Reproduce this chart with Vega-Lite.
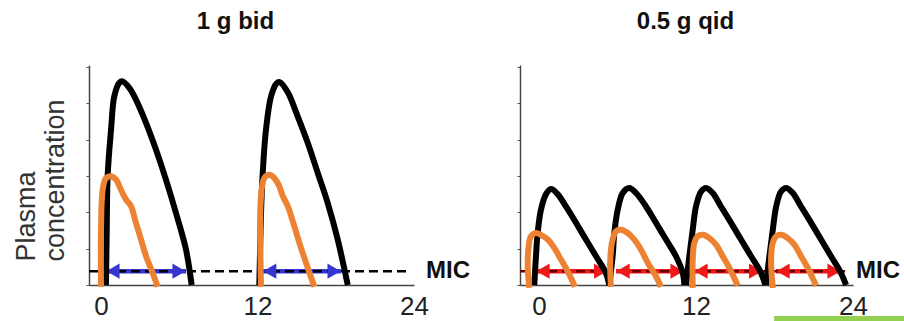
{
  "$schema": "https://vega.github.io/schema/vega-lite/v6.json",
  "padding": {"left": 12, "top": 10, "right": 0, "bottom": 0},
  "background": "white",
  "spacing": 106,
  "bounds": "flush",
  "config": {
    "view": {"stroke": null},
    "font": "Liberation Sans",
    "axis": {"domainColor": "#444", "domainWidth": 1.5, "grid": false, "labelFont": "Liberation Sans", "labelColor": "#222", "titleFont": "Liberation Sans"},
    "title": {"font": "Liberation Sans", "fontSize": 24, "fontWeight": "bold", "color": "#111", "baseline": "alphabetic"}
  },
  "datasets": {
    "curves": [
      {"p":"bid","s":"total","k":"b1","i":0,"t":0.38,"v":0},
      {"p":"bid","s":"total","k":"b1","i":1,"t":0.44,"v":1.52},
      {"p":"bid","s":"total","k":"b1","i":2,"t":0.51,"v":3.0},
      {"p":"bid","s":"total","k":"b1","i":3,"t":0.77,"v":4.27},
      {"p":"bid","s":"total","k":"b1","i":4,"t":1.02,"v":5.19},
      {"p":"bid","s":"total","k":"b1","i":5,"t":1.4,"v":5.56},
      {"p":"bid","s":"total","k":"b1","i":6,"t":1.66,"v":5.6},
      {"p":"bid","s":"total","k":"b1","i":7,"t":2.17,"v":5.42},
      {"p":"bid","s":"total","k":"b1","i":8,"t":2.68,"v":5.1},
      {"p":"bid","s":"total","k":"b1","i":9,"t":3.45,"v":4.46},
      {"p":"bid","s":"total","k":"b1","i":10,"t":4.22,"v":3.72},
      {"p":"bid","s":"total","k":"b1","i":11,"t":4.98,"v":2.9},
      {"p":"bid","s":"total","k":"b1","i":12,"t":5.75,"v":1.98},
      {"p":"bid","s":"total","k":"b1","i":13,"t":6.52,"v":0.97},
      {"p":"bid","s":"total","k":"b1","i":14,"t":6.95,"v":0},
      {"p":"bid","s":"total","k":"b2","i":0,"t":12.14,"v":0},
      {"p":"bid","s":"total","k":"b2","i":1,"t":12.27,"v":1.98},
      {"p":"bid","s":"total","k":"b2","i":2,"t":12.4,"v":3.08},
      {"p":"bid","s":"total","k":"b2","i":3,"t":12.65,"v":4.27},
      {"p":"bid","s":"total","k":"b2","i":4,"t":13.04,"v":5.19},
      {"p":"bid","s":"total","k":"b2","i":5,"t":13.45,"v":5.54},
      {"p":"bid","s":"total","k":"b2","i":6,"t":13.7,"v":5.58},
      {"p":"bid","s":"total","k":"b2","i":7,"t":14.32,"v":5.3},
      {"p":"bid","s":"total","k":"b2","i":8,"t":15.08,"v":4.64},
      {"p":"bid","s":"total","k":"b2","i":9,"t":15.85,"v":3.91},
      {"p":"bid","s":"total","k":"b2","i":10,"t":16.62,"v":3.08},
      {"p":"bid","s":"total","k":"b2","i":11,"t":17.38,"v":2.26},
      {"p":"bid","s":"total","k":"b2","i":12,"t":18.15,"v":1.25},
      {"p":"bid","s":"total","k":"b2","i":13,"t":18.92,"v":0},
      {"p":"bid","s":"free","k":"o1","i":0,"t":0.0,"v":-0.05},
      {"p":"bid","s":"free","k":"o1","i":1,"t":0.0,"v":1.52},
      {"p":"bid","s":"free","k":"o1","i":2,"t":0.13,"v":2.62},
      {"p":"bid","s":"free","k":"o1","i":3,"t":0.38,"v":2.94},
      {"p":"bid","s":"free","k":"o1","i":4,"t":0.77,"v":2.99},
      {"p":"bid","s":"free","k":"o1","i":5,"t":1.15,"v":2.9},
      {"p":"bid","s":"free","k":"o1","i":6,"t":1.53,"v":2.62},
      {"p":"bid","s":"free","k":"o1","i":7,"t":1.92,"v":2.35},
      {"p":"bid","s":"free","k":"o1","i":8,"t":2.3,"v":2.17},
      {"p":"bid","s":"free","k":"o1","i":9,"t":2.68,"v":1.71},
      {"p":"bid","s":"free","k":"o1","i":10,"t":3.07,"v":1.25},
      {"p":"bid","s":"free","k":"o1","i":11,"t":3.45,"v":0.8},
      {"p":"bid","s":"free","k":"o1","i":12,"t":3.96,"v":0.33},
      {"p":"bid","s":"free","k":"o1","i":13,"t":4.35,"v":-0.05},
      {"p":"bid","s":"free","k":"o2","i":0,"t":12.27,"v":-0.05},
      {"p":"bid","s":"free","k":"o2","i":1,"t":12.27,"v":2.45},
      {"p":"bid","s":"free","k":"o2","i":2,"t":12.52,"v":2.94},
      {"p":"bid","s":"free","k":"o2","i":3,"t":12.91,"v":3.03},
      {"p":"bid","s":"free","k":"o2","i":4,"t":13.29,"v":2.94},
      {"p":"bid","s":"free","k":"o2","i":5,"t":13.67,"v":2.72},
      {"p":"bid","s":"free","k":"o2","i":6,"t":13.93,"v":2.45},
      {"p":"bid","s":"free","k":"o2","i":7,"t":14.32,"v":2.17},
      {"p":"bid","s":"free","k":"o2","i":8,"t":14.82,"v":1.62},
      {"p":"bid","s":"free","k":"o2","i":9,"t":15.21,"v":1.16},
      {"p":"bid","s":"free","k":"o2","i":10,"t":15.72,"v":0.61},
      {"p":"bid","s":"free","k":"o2","i":11,"t":16.36,"v":-0.05},
      {"p":"qid","s":"total","k":"q1","i":0,"t":-0.36,"v":0},
      {"p":"qid","s":"total","k":"q1","i":1,"t":-0.23,"v":0.79},
      {"p":"qid","s":"total","k":"q1","i":2,"t":-0.1,"v":1.43},
      {"p":"qid","s":"total","k":"q1","i":3,"t":0.15,"v":2.07},
      {"p":"qid","s":"total","k":"q1","i":4,"t":0.54,"v":2.5},
      {"p":"qid","s":"total","k":"q1","i":5,"t":0.92,"v":2.64},
      {"p":"qid","s":"total","k":"q1","i":6,"t":1.43,"v":2.5},
      {"p":"qid","s":"total","k":"q1","i":7,"t":2.06,"v":2.16},
      {"p":"qid","s":"total","k":"q1","i":8,"t":2.83,"v":1.71},
      {"p":"qid","s":"total","k":"q1","i":9,"t":3.59,"v":1.25},
      {"p":"qid","s":"total","k":"q1","i":10,"t":4.36,"v":0.79},
      {"p":"qid","s":"total","k":"q1","i":11,"t":5.12,"v":0.33},
      {"p":"qid","s":"total","k":"q1","i":12,"t":5.37,"v":0},
      {"p":"qid","s":"total","k":"q2","i":0,"t":5.37,"v":0},
      {"p":"qid","s":"total","k":"q2","i":1,"t":5.63,"v":0.79},
      {"p":"qid","s":"total","k":"q2","i":2,"t":5.76,"v":1.43},
      {"p":"qid","s":"total","k":"q2","i":3,"t":6.02,"v":2.07},
      {"p":"qid","s":"total","k":"q2","i":4,"t":6.4,"v":2.53},
      {"p":"qid","s":"total","k":"q2","i":5,"t":6.9,"v":2.67},
      {"p":"qid","s":"total","k":"q2","i":6,"t":7.42,"v":2.53},
      {"p":"qid","s":"total","k":"q2","i":7,"t":8.18,"v":2.16},
      {"p":"qid","s":"total","k":"q2","i":8,"t":8.94,"v":1.71},
      {"p":"qid","s":"total","k":"q2","i":9,"t":9.71,"v":1.25},
      {"p":"qid","s":"total","k":"q2","i":10,"t":10.47,"v":0.79},
      {"p":"qid","s":"total","k":"q2","i":11,"t":10.99,"v":0.33},
      {"p":"qid","s":"total","k":"q2","i":12,"t":11.11,"v":0},
      {"p":"qid","s":"total","k":"q3","i":0,"t":11.24,"v":0},
      {"p":"qid","s":"total","k":"q3","i":1,"t":11.49,"v":0.79},
      {"p":"qid","s":"total","k":"q3","i":2,"t":11.75,"v":1.52},
      {"p":"qid","s":"total","k":"q3","i":3,"t":12.0,"v":2.16},
      {"p":"qid","s":"total","k":"q3","i":4,"t":12.39,"v":2.57},
      {"p":"qid","s":"total","k":"q3","i":5,"t":12.77,"v":2.67},
      {"p":"qid","s":"total","k":"q3","i":6,"t":13.28,"v":2.53},
      {"p":"qid","s":"total","k":"q3","i":7,"t":13.91,"v":2.16},
      {"p":"qid","s":"total","k":"q3","i":8,"t":14.68,"v":1.71},
      {"p":"qid","s":"total","k":"q3","i":9,"t":15.44,"v":1.25},
      {"p":"qid","s":"total","k":"q3","i":10,"t":16.21,"v":0.79},
      {"p":"qid","s":"total","k":"q3","i":11,"t":16.97,"v":0.33},
      {"p":"qid","s":"total","k":"q3","i":12,"t":17.3,"v":0},
      {"p":"qid","s":"total","k":"q4","i":0,"t":17.35,"v":0},
      {"p":"qid","s":"total","k":"q4","i":1,"t":17.61,"v":0.79},
      {"p":"qid","s":"total","k":"q4","i":2,"t":17.87,"v":1.52},
      {"p":"qid","s":"total","k":"q4","i":3,"t":18.13,"v":2.16},
      {"p":"qid","s":"total","k":"q4","i":4,"t":18.5,"v":2.57},
      {"p":"qid","s":"total","k":"q4","i":5,"t":18.9,"v":2.67},
      {"p":"qid","s":"total","k":"q4","i":6,"t":19.4,"v":2.53},
      {"p":"qid","s":"total","k":"q4","i":7,"t":20.03,"v":2.16},
      {"p":"qid","s":"total","k":"q4","i":8,"t":20.8,"v":1.71},
      {"p":"qid","s":"total","k":"q4","i":9,"t":21.56,"v":1.25},
      {"p":"qid","s":"total","k":"q4","i":10,"t":22.32,"v":0.79},
      {"p":"qid","s":"total","k":"q4","i":11,"t":23.08,"v":0.33},
      {"p":"qid","s":"total","k":"q4","i":12,"t":23.47,"v":0},
      {"p":"qid","s":"free","k":"r1","i":0,"t":-0.74,"v":-0.08},
      {"p":"qid","s":"free","k":"r1","i":1,"t":-0.86,"v":0.51},
      {"p":"qid","s":"free","k":"r1","i":2,"t":-0.79,"v":1.06},
      {"p":"qid","s":"free","k":"r1","i":3,"t":-0.61,"v":1.34},
      {"p":"qid","s":"free","k":"r1","i":4,"t":-0.23,"v":1.43},
      {"p":"qid","s":"free","k":"r1","i":5,"t":0.15,"v":1.38},
      {"p":"qid","s":"free","k":"r1","i":6,"t":0.67,"v":1.25},
      {"p":"qid","s":"free","k":"r1","i":7,"t":1.17,"v":1.02},
      {"p":"qid","s":"free","k":"r1","i":8,"t":1.68,"v":0.7},
      {"p":"qid","s":"free","k":"r1","i":9,"t":2.19,"v":0.38},
      {"p":"qid","s":"free","k":"r1","i":10,"t":2.75,"v":-0.05},
      {"p":"qid","s":"free","k":"r2","i":0,"t":5.5,"v":-0.05},
      {"p":"qid","s":"free","k":"r2","i":1,"t":5.45,"v":0.7},
      {"p":"qid","s":"free","k":"r2","i":2,"t":5.63,"v":1.25},
      {"p":"qid","s":"free","k":"r2","i":3,"t":5.89,"v":1.48},
      {"p":"qid","s":"free","k":"r2","i":4,"t":6.27,"v":1.52},
      {"p":"qid","s":"free","k":"r2","i":5,"t":6.78,"v":1.43},
      {"p":"qid","s":"free","k":"r2","i":6,"t":7.29,"v":1.25},
      {"p":"qid","s":"free","k":"r2","i":7,"t":7.8,"v":0.97},
      {"p":"qid","s":"free","k":"r2","i":8,"t":8.31,"v":0.61},
      {"p":"qid","s":"free","k":"r2","i":9,"t":8.94,"v":0.24},
      {"p":"qid","s":"free","k":"r2","i":10,"t":9.33,"v":-0.05},
      {"p":"qid","s":"free","k":"r3","i":0,"t":11.75,"v":-0.08},
      {"p":"qid","s":"free","k":"r3","i":1,"t":11.75,"v":0.7},
      {"p":"qid","s":"free","k":"r3","i":2,"t":11.87,"v":1.16},
      {"p":"qid","s":"free","k":"r3","i":3,"t":12.13,"v":1.34},
      {"p":"qid","s":"free","k":"r3","i":4,"t":12.52,"v":1.38},
      {"p":"qid","s":"free","k":"r3","i":5,"t":13.02,"v":1.29},
      {"p":"qid","s":"free","k":"r3","i":6,"t":13.53,"v":1.11},
      {"p":"qid","s":"free","k":"r3","i":7,"t":14.04,"v":0.79},
      {"p":"qid","s":"free","k":"r3","i":8,"t":14.55,"v":0.47},
      {"p":"qid","s":"free","k":"r3","i":9,"t":15.19,"v":-0.02},
      {"p":"qid","s":"free","k":"r4","i":0,"t":17.87,"v":-0.08},
      {"p":"qid","s":"free","k":"r4","i":1,"t":17.74,"v":0.7},
      {"p":"qid","s":"free","k":"r4","i":2,"t":17.87,"v":1.16},
      {"p":"qid","s":"free","k":"r4","i":3,"t":18.13,"v":1.34},
      {"p":"qid","s":"free","k":"r4","i":4,"t":18.5,"v":1.38},
      {"p":"qid","s":"free","k":"r4","i":5,"t":19.01,"v":1.29},
      {"p":"qid","s":"free","k":"r4","i":6,"t":19.52,"v":1.11},
      {"p":"qid","s":"free","k":"r4","i":7,"t":20.03,"v":0.79},
      {"p":"qid","s":"free","k":"r4","i":8,"t":20.54,"v":0.47},
      {"p":"qid","s":"free","k":"r4","i":9,"t":21.18,"v":-0.02}
    ],
    "mic": [
      {"p":"bid","t":-0.92,"t2":23.6,"v":0.38},
      {"p":"qid","t":-1.45,"t2":23.4,"v":0.38}
    ],
    "miclabel": [
      {"p":"bid","t":24,"v":0.38,"label":"MIC"},
      {"p":"qid","t":24,"v":0.38,"label":"MIC"}
    ],
    "shafts": [
      {"p":"bid","t":0.38,"t2":6.52,"v":0.38},
      {"p":"bid","t":12.4,"t2":18.4,"v":0.38},
      {"p":"qid","t":-0.23,"t2":5.25,"v":0.38},
      {"p":"qid","t":5.89,"t2":11.09,"v":0.38},
      {"p":"qid","t":11.85,"t2":17.1,"v":0.38},
      {"p":"qid","t":18.12,"t2":23.09,"v":0.38}
    ],
    "heads": [
      {"p":"bid","d":"L","t":0.92,"v":0.38},
      {"p":"bid","d":"R","t":5.98,"v":0.38},
      {"p":"bid","d":"L","t":12.94,"v":0.38},
      {"p":"bid","d":"R","t":17.87,"v":0.38},
      {"p":"qid","d":"L","t":0.31,"v":0.38},
      {"p":"qid","d":"R","t":4.71,"v":0.38},
      {"p":"qid","d":"L","t":6.43,"v":0.38},
      {"p":"qid","d":"R","t":10.55,"v":0.38},
      {"p":"qid","d":"L","t":12.39,"v":0.38},
      {"p":"qid","d":"R","t":16.56,"v":0.38},
      {"p":"qid","d":"L","t":18.66,"v":0.38},
      {"p":"qid","d":"R","t":22.55,"v":0.38}
    ],
    "bar": [
      {"t":17.97,"t2":27.98,"v":-0.85,"v2":-1.3}
    ]
  },
  "hconcat": [
    {
      "width": 325,
      "height": 220,
      "title": {"text": "1 g bid", "dx": -16, "offset": 31},
      "encoding": {
        "x": {"field": "t", "type": "quantitative", "scale": {"domain": [-0.92, 24], "nice": false, "zero": false},
              "axis": {"values": [0, 12, 24], "ticks": false, "labelFontSize": 26, "labelPadding": 8, "labelFlush": false, "labelBound": false, "labelOverlap": false, "title": null}},
        "y": {"field": "v", "type": "quantitative", "scale": {"domain": [0, 6.05], "nice": false, "zero": false},
              "axis": {"values": [0, 1, 2, 3, 4, 5, 6], "labels": false, "tickSize": 3, "tickColor": "#555", "tickWidth": 1,
                       "title": ["Plasma", "concentration"], "titleFontSize": 27, "titleFontWeight": "normal", "titleColor": "#333",
                       "titleAngle": -90, "titleAlign": "left", "titleBaseline": "alphabetic", "titleX": -55, "titleY": 196, "titleLineHeight": 29}}
      },
      "layer": [
        {"data": {"name": "shafts"}, "transform": [{"filter": "datum.p == 'bid'"}],
         "mark": {"type": "rule", "color": "#3535d0", "strokeWidth": 4.5}, "encoding": {"x2": {"field": "t2"}}},
        {"data": {"name": "mic"}, "transform": [{"filter": "datum.p == 'bid'"}],
         "mark": {"type": "rule", "color": "#000", "strokeWidth": 2.5, "strokeDash": [9, 5]}, "encoding": {"x2": {"field": "t2"}}},
        {"data": {"name": "heads"}, "transform": [{"filter": "datum.p == 'bid'"}],
         "mark": {"type": "point", "filled": true, "size": 230, "color": "#3535d0", "opacity": 1},
         "encoding": {"shape": {"field": "d", "type": "nominal", "scale": {"domain": ["L", "R"], "range": ["triangle-left", "triangle-right"]}, "legend": null}}},
        {"data": {"name": "curves"}, "transform": [{"filter": "datum.p == 'bid' && datum.s == 'total'"}],
         "mark": {"type": "line", "color": "#000", "strokeWidth": 6, "interpolate": "catmull-rom", "strokeJoin": "round"},
         "encoding": {"detail": {"field": "k"}, "order": {"field": "i", "type": "quantitative"}}},
        {"data": {"name": "curves"}, "transform": [{"filter": "datum.p == 'bid' && datum.s == 'free'"}],
         "mark": {"type": "line", "color": "#ed8233", "strokeWidth": 6, "interpolate": "catmull-rom", "strokeJoin": "round"},
         "encoding": {"detail": {"field": "k"}, "order": {"field": "i", "type": "quantitative"}}},
        {"data": {"name": "miclabel"}, "transform": [{"filter": "datum.p == 'bid'"}],
         "mark": {"type": "text", "align": "left", "baseline": "middle", "dx": 12, "fontSize": 24, "fontWeight": "bold", "color": "#111"},
         "encoding": {"text": {"field": "label"}}}
      ]
    },
    {
      "width": 333,
      "height": 220,
      "title": {"text": "0.5 g qid", "dx": -1, "offset": 31},
      "encoding": {
        "x": {"field": "t", "type": "quantitative", "scale": {"domain": [-1.45, 24], "nice": false, "zero": false},
              "axis": {"values": [0, 12, 24], "ticks": false, "labelFontSize": 26, "labelPadding": 8, "labelFlush": false, "labelBound": false, "labelOverlap": false, "title": null}},
        "y": {"field": "v", "type": "quantitative", "scale": {"domain": [0, 6.05], "nice": false, "zero": false},
              "axis": {"values": [0, 1, 2, 3, 4, 5, 6], "labels": false, "tickSize": 3, "tickColor": "#555", "tickWidth": 1, "title": null}}
      },
      "layer": [
        {"data": {"name": "bar"},
         "mark": {"type": "rect", "color": "#92d050"}, "encoding": {"x2": {"field": "t2"}, "y2": {"field": "v2"}}},
        {"data": {"name": "shafts"}, "transform": [{"filter": "datum.p == 'qid'"}],
         "mark": {"type": "rule", "color": "#f01818", "strokeWidth": 4.5}, "encoding": {"x2": {"field": "t2"}}},
        {"data": {"name": "mic"}, "transform": [{"filter": "datum.p == 'qid'"}],
         "mark": {"type": "rule", "color": "#6a0000", "strokeWidth": 2.5, "strokeDash": [9, 5]}, "encoding": {"x2": {"field": "t2"}}},
        {"data": {"name": "heads"}, "transform": [{"filter": "datum.p == 'qid'"}],
         "mark": {"type": "point", "filled": true, "size": 230, "color": "#f01818", "opacity": 1},
         "encoding": {"shape": {"field": "d", "type": "nominal", "scale": {"domain": ["L", "R"], "range": ["triangle-left", "triangle-right"]}, "legend": null}}},
        {"data": {"name": "curves"}, "transform": [{"filter": "datum.p == 'qid' && datum.s == 'total'"}],
         "mark": {"type": "line", "color": "#000", "strokeWidth": 6, "interpolate": "catmull-rom", "strokeJoin": "round"},
         "encoding": {"detail": {"field": "k"}, "order": {"field": "i", "type": "quantitative"}}},
        {"data": {"name": "curves"}, "transform": [{"filter": "datum.p == 'qid' && datum.s == 'free'"}],
         "mark": {"type": "line", "color": "#ed8233", "strokeWidth": 6, "interpolate": "catmull-rom", "strokeJoin": "round"},
         "encoding": {"detail": {"field": "k"}, "order": {"field": "i", "type": "quantitative"}}},
        {"data": {"name": "miclabel"}, "transform": [{"filter": "datum.p == 'qid'"}],
         "mark": {"type": "text", "align": "left", "baseline": "middle", "dx": 3, "fontSize": 24, "fontWeight": "bold", "color": "#111"},
         "encoding": {"text": {"field": "label"}}}
      ]
    }
  ]
}
